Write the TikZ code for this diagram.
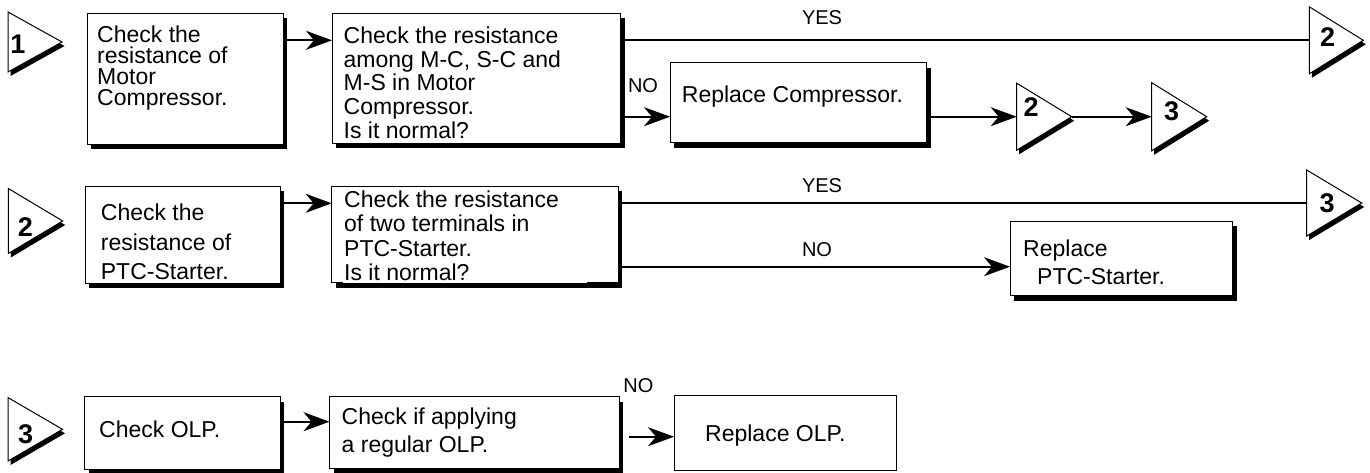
\documentclass[tikz,border=0pt]{standalone}
\usepackage{fontspec}
\setmainfont{Liberation Sans}
\usetikzlibrary{arrows.meta}
\tikzset{
  boxline/.style={draw=black,line width=1pt,fill=white,inner sep=0pt,outer sep=0pt},
  shadowfill/.style={fill=black},
  txt/.style={anchor=base west,inner sep=0pt,font=\fontsize{23}{26}\selectfont},
  lab/.style={inner sep=0pt,font=\fontsize{20}{22}\selectfont},
  digit/.style={inner sep=0pt,font=\bfseries\fontsize{27}{29}\selectfont},
  conn/.style={line width=1.8pt,draw=black},
  arr/.style={conn,-{Stealth[length=26pt,width=19pt,inset=8pt]}}
}
% marker: name, basex, tipx, tipy, half height, digit, digit x, digit y
\newcommand\mkr[8]{%
  \fill[shadowfill] (#2+2.5,#4-#5+4) -- (#3+2.5,#4+4) -- (#2+2.5,#4+#5+4) -- cycle;
  \filldraw[fill=white,draw=black,line width=1pt,line join=miter] (#2,#4-#5) -- (#3,#4) -- (#2,#4+#5) -- cycle;
  \coordinate (#1-w) at (#2,#4);
  \coordinate (#1-tip) at (#3,#4);
  \node[digit] (#1-n) at (#7,#8) {#6};
}
% box with shadow: name, x1, y1, x2, y2
\newcommand\bx[5]{%
  \fill[shadowfill] (#2+4,#3+5) rectangle (#4+4,#5+5);
  \node[boxline,minimum width={#4-#2},minimum height={#5-#3}] (#1) at ({(#2+#4)/2},{(#3+#5)/2}) {};
}
\newcommand\bxn[5]{%
  \node[boxline,minimum width={#4-#2},minimum height={#5-#3}] (#1) at ({(#2+#4)/2},{(#3+#5)/2}) {};
}
\begin{document}
\begin{tikzpicture}[x=1pt,y=-1pt]
\fill[white] (0,0) rectangle (1370,472);
\useasboundingbox (0,0) rectangle (1370,472);

% ---------- row 1 ----------
\mkr{T1}{8}{62}{42}{30}{1}{18}{44}
\bx{A}{87}{13}{283}{144}
\node[txt] (A-1) at (97,42.5) {Check the};
\node[txt] (A-2) at (97,63.5) {resistance of};
\node[txt] (A-3) at (97,84.5) {Motor};
\node[txt] (A-4) at (97,105.5) {Compressor.};

\bx{B}{332}{13}{620.5}{143.3}
\node[txt] (B-1) at (343.5,43.3) {Check the resistance};
\node[txt] (B-2) at (343.5,67) {among M-C, S-C and};
\node[txt] (B-3) at (343.5,90.8) {M-S in Motor};
\node[txt] (B-4) at (343.5,114.5) {Compressor.};
\node[txt] (B-5) at (343.5,138.3) {Is it normal?};

\bx{RC}{670}{62.7}{926.7}{142.7}
\node[txt] (RC-1) at (681.7,102) {Replace Compressor.};

\mkr{T2R}{1309.3}{1363.3}{40.3}{33.5}{2}{1327.5}{37.5}
\mkr{T2M}{1016.7}{1071.7}{116.7}{33.5}{2}{1031}{107}
\mkr{T3M}{1151.7}{1206.7}{116.7}{34}{3}{1171.5}{111}

\node[lab] (yes1) at (822,17.5) {YES};
\node[lab] (no1) at (643,86) {NO};

\draw[arr] (A.east |- 0,40.3) -- (B.west |- 0,40.3);
\draw[conn] (B.east |- 0,40.3) -- (T2R-w);
\draw[arr] (B.east |- 0,116.7) -- (RC.west |- 0,116.7);
\draw[arr] (RC.east |- 0,116.7) -- (T2M-w);
\draw[arr] (T2M-tip) -- (T3M-w);

% ---------- row 2 ----------
\mkr{T2L}{8.3}{62.7}{221}{32.5}{2}{25.5}{227}
\bx{A2}{85}{186}{280}{283.3}
\node[txt] (A2-1) at (100.7,220.7) {Check the};
\node[txt] (A2-2) at (100.7,250) {resistance of};
\node[txt] (A2-3) at (100.7,279.3) {PTC-Starter.};

\bx{B2}{331.7}{186}{618.3}{282.7}
\fill[white] (343.3,270) rectangle (586.7,283.4);
\node[txt] (B2-1) at (344,207.3) {Check the resistance};
\node[txt] (B2-2) at (344,231.7) {of two terminals in};
\node[txt] (B2-3) at (344,256) {PTC-Starter.};
\node[txt] (B2-4) at (344,280) {Is it normal?};

\bx{RP}{1010}{221}{1232.6}{295.7}
\node[txt] (RP-1) at (1023,256.5) {Replace};
\node[txt] (RP-2) at (1037,284.5) {PTC-Starter.};

\mkr{T3R}{1306.7}{1361.7}{203}{33}{3}{1327}{203}

\node[lab] (yes2) at (822,186) {YES};
\node[lab] (no2) at (817,249.5) {NO};

\draw[arr] (A2.east |- 0,203.3) -- (B2.west |- 0,203.3);
\draw[conn] (B2.east |- 0,203) -- (T3R-w);
\draw[arr] (B2.east |- 0,266.7) -- (RP.west |- 0,266.7);

% ---------- row 3 ----------
\mkr{T3L}{8}{62.5}{429.3}{31.7}{3}{25.7}{434}
\bx{C1}{84.8}{396.7}{280.4}{469.3}
\node[txt] (C1-1) at (99,437) {Check OLP.};

\bx{C2}{329.5}{396.7}{619.2}{468.3}
\node[txt] (C2-1) at (341.5,424) {Check if applying};
\node[txt] (C2-2) at (341.5,452) {a regular OLP.};

\bxn{C3}{674}{395.7}{896.7}{470}
\node[txt] (C3-1) at (705,441) {Replace OLP.};

\node[lab] (no3) at (638.4,385.7) {NO};

\draw[arr] (C1.east |- 0,421.7) -- (C2.west |- 0,421.7);
\coordinate (n3start) at (628.6,436.7);
\draw[arr] (n3start) -- (C3.west |- n3start);
\end{tikzpicture}
\end{document}
